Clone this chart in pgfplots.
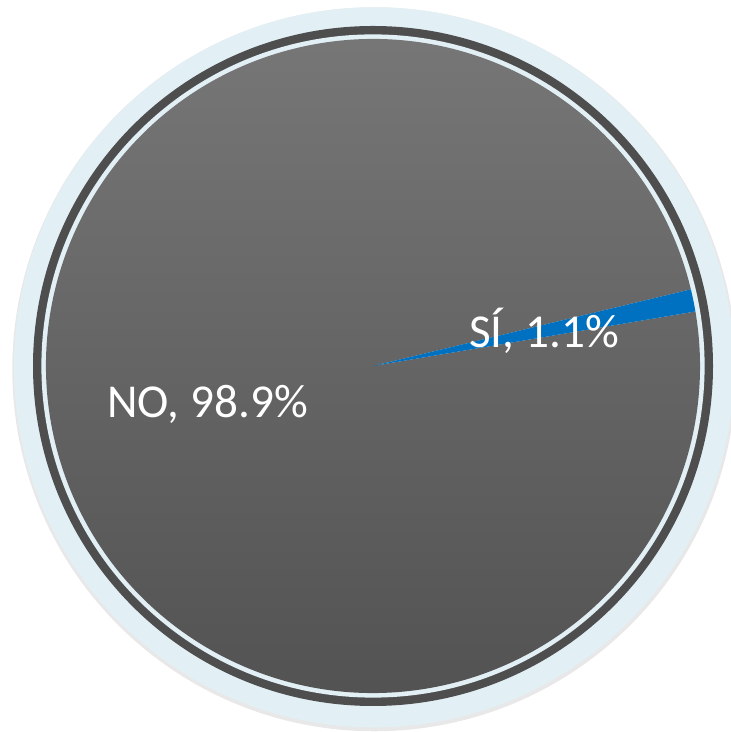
\documentclass[border=0pt]{standalone}
\usepackage{pgfplots}
\pgfplotsset{compat=1.18}
\usepackage{pgfplotstable}
\usepackage{fontspec}
\setmainfont{Carlito}

\definecolor{ringblue}{HTML}{E2F0F6}
\definecolor{ringdark}{HTML}{4E4E4E}
\definecolor{pietop}{HTML}{787878}
\definecolor{piebot}{HTML}{515151}
\definecolor{siblue}{HTML}{0070C0}

% share of each answer, in percent
\pgfplotstableread{
label value
NO    98.9
SI    1.1
}\piedata

\begin{document}
\begin{tikzpicture}
\useasboundingbox (0pt,0pt) rectangle (365.5pt,366pt);
\pgfplotstablegetelem{0}{value}\of\piedata \let\valno\pgfplotsretval
\pgfplotstablegetelem{1}{value}\of\piedata \let\valsi\pgfplotsretval
\pgfmathsetmacro{\astart}{9.6}
\pgfmathsetmacro{\amid}{\astart+3.6*\valsi}
\pgfmathsetmacro{\aend}{\amid+3.6*\valno}
\begin{axis}[
    at={(186.5pt,183pt)}, anchor=center,
    hide axis, scale only axis,
    width=327pt, height=327pt,
    xmin=-1, xmax=1, ymin=-1, ymax=1,
    clip=false,
    ]
    \addplot[draw=none] coordinates {(0,0)};
    % frame rings
    \fill[black!9] (axis cs:0.004,-0.010) circle[radius=181pt];
    \fill[ringblue] (axis cs:0.003,-0.004) circle[radius=180pt];
    \fill[ringdark] (axis cs:0,0) circle[radius=170pt];
    \fill[ringblue] (axis cs:0,0) circle[radius=165.8pt];
    % slices
    \path[top color=pietop, bottom color=piebot]
        (axis cs:0,0) -- (axis cs:{cos(\amid)},{sin(\amid)})
        arc[start angle=\amid, end angle=\aend, radius=163.5pt] -- cycle;
    \fill[siblue]
        (axis cs:0,0) -- (axis cs:{cos(\astart)},{sin(\astart)})
        arc[start angle=\astart, end angle=\amid, radius=163.5pt] -- cycle;
    % labels
    \node[white, anchor=base, font=\fontsize{23.6}{28}\selectfont]
        at (axis cs:-0.506,-0.159) {NO, 98.9\%};
    \node[white, anchor=base, font=\fontsize{23.6}{28}\selectfont]
        at (axis cs:0.523,0.058) {SÍ, 1.1\%};
\end{axis}
\end{tikzpicture}
\end{document}
